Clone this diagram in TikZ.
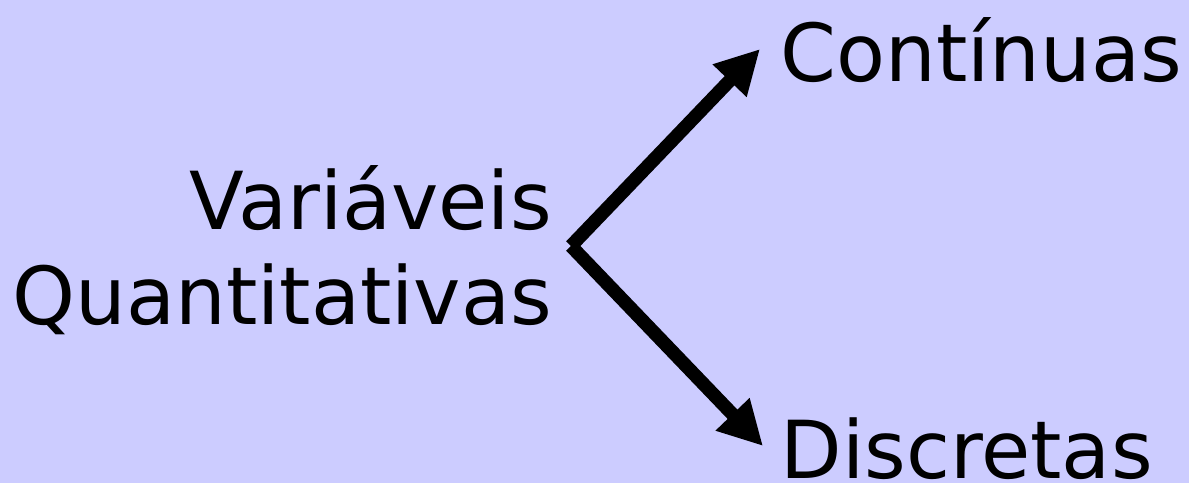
\documentclass[tikz,border=0pt]{standalone}
\usepackage{fontspec}
\setmainfont{DejaVu Sans}
\usetikzlibrary{arrows.meta}
\definecolor{bg}{HTML}{CCCCFF}
\begin{document}
\begin{tikzpicture}[x=1pt,y=1pt,
  lbl/.style={inner sep=0pt, font=\fontsize{80}{96}\selectfont},
  arr/.style={line width=13.5pt, -{Triangle[length=44pt,width=44pt]}}]
\fill[bg] (0,0) rectangle (1189,483);
\useasboundingbox (0,0) rectangle (1189,483);
\node[lbl, anchor=base east] (var) at (552,254) {Variáveis};
\node[lbl, anchor=base east] (quant) at (552,159) {Quantitativas};
\node[lbl, anchor=base west] (cont) at (780.5,401) {Contínuas};
\node[lbl, anchor=base west] (disc) at (780.5,5) {Discretas};
\coordinate (v) at (571,237);
\coordinate (up) at (760,434);
\coordinate (dn) at (763,37);
\draw[arr] (v) -- (up);
\draw[arr] (v) -- (dn);
\end{tikzpicture}
\end{document}
